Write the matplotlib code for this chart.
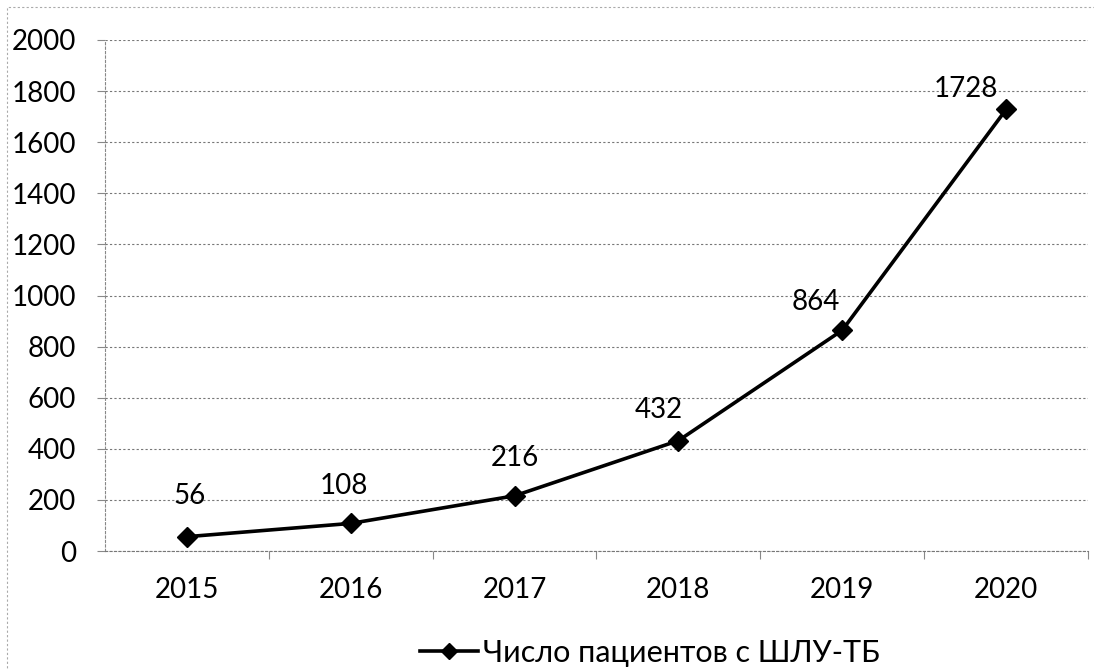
import matplotlib
matplotlib.use("Agg")
import matplotlib.pyplot as plt
from matplotlib.lines import Line2D
from matplotlib.patches import Rectangle

years = ["2015", "2016", "2017", "2018", "2019", "2020"]
patients = [56, 108, 216, 432, 864, 1728]
series_label = "Число пациентов с ШЛУ-ТБ"
yticks = [0, 200, 400, 600, 800, 1000, 1200, 1400, 1600, 1800, 2000]

plt.rcParams['font.family'] = ['Lato', 'Open Sans', 'DejaVu Sans']

fig = plt.figure(figsize=(10.94, 6.70), dpi=100)
ax = fig.add_axes([105/1094, 1-551/670, (1088-105)/1094, (551-40)/670])

x = list(range(len(years)))
ax.plot(x, patients, color='black', lw=2.6, marker='D', markersize=10,
        label=series_label, zorder=3)

offsets = [(2, 29), (-5, 27), (0, 27), (-14, 22), (-19, 20), (-29, 15)]
for xi, v, off in zip(x, patients, offsets):
    ax.annotate(str(v), (xi, v), xytext=off, textcoords='offset points',
                ha='center', va='center', fontsize=20, color='black')

ax.set_xlim(-0.5, len(years) - 0.5)
ax.set_ylim(0, 2000)
ax.set_yticks(yticks)
ax.set_yticklabels([str(t) for t in yticks], fontsize=20)
ax.set_xticks(x)
ax.set_xticklabels(years, fontsize=20)
ax.tick_params(axis='x', length=0, pad=19)
ax.tick_params(axis='y', length=6, pad=15, color='#888888', width=0.8)
ax.set_xticks([i + 0.5 for i in range(len(years))], minor=True)
ax.tick_params(axis='x', which='minor', length=6, color='#888888', width=0.8)

ax.yaxis.grid(True, color='#777777', linestyle=(0, (2, 2)), linewidth=0.8)
ax.set_axisbelow(True)
for s in ['top', 'right']:
    ax.spines[s].set_visible(False)
ax.spines['left'].set_color('#888888')
ax.spines['left'].set_linestyle((0, (2, 2)))
ax.spines['left'].set_linewidth(0.8)
ax.spines['bottom'].set_color('#777777')
ax.spines['bottom'].set_linestyle((0, (2, 2)))
ax.spines['bottom'].set_linewidth(0.8)

leg = fig.legend(handles=[Line2D([0], [0], color='black', lw=2.6, marker='D', markersize=8)],
                 labels=[series_label], loc='center', bbox_to_anchor=(650/1094, 1-653/670),
                 frameon=False, fontsize=22, handlelength=1.9, handletextpad=0.15)

fig.patches.append(Rectangle((7/1094, -0.01), 2, 1.0, transform=fig.transFigure,
                             fill=False, edgecolor='#aaaaaa', linestyle=(0, (2, 2)), lw=0.8))

fig.savefig("out.png", dpi=100)
